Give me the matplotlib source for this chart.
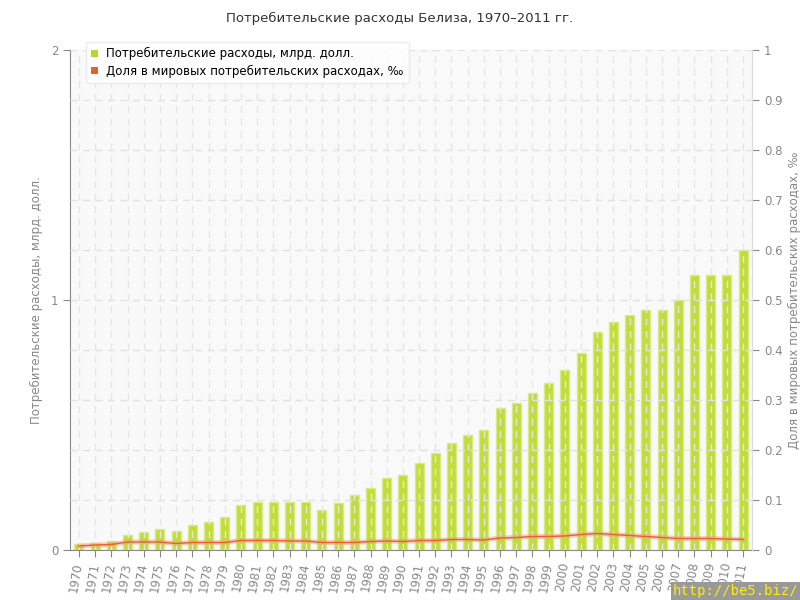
import matplotlib
matplotlib.use("Agg")
import matplotlib.pyplot as plt
import numpy as np
from matplotlib.patches import Patch

years = list(range(1970, 2012))
spending = [0.023, 0.029, 0.036, 0.06, 0.072, 0.083, 0.076, 0.099, 0.111, 0.131,
            0.18, 0.191, 0.191, 0.191, 0.191, 0.16, 0.19, 0.22, 0.25, 0.29,
            0.30, 0.35, 0.39, 0.43, 0.46, 0.48, 0.57, 0.59, 0.63, 0.67,
            0.72, 0.79, 0.871, 0.912, 0.94, 0.96, 0.96, 1.0, 1.1, 1.1,
            1.1, 1.2]
share = [0.008, 0.010, 0.011, 0.016, 0.016, 0.016, 0.013, 0.015, 0.015, 0.015,
         0.019, 0.019, 0.019, 0.018, 0.018, 0.015, 0.015, 0.015, 0.017, 0.018,
         0.017, 0.019, 0.019, 0.021, 0.021, 0.020, 0.024, 0.025, 0.027, 0.027,
         0.028, 0.031, 0.033, 0.031, 0.029, 0.027, 0.025, 0.023, 0.023, 0.023,
         0.022, 0.021]

title = "Потребительские расходы Белиза, 1970–2011 гг."
left_label = "Потребительские расходы, млрд. долл."
right_label = "Доля в мировых потребительских расходах, ‰"
legend_labels = ["Потребительские расходы, млрд. долл.",
                 "Доля в мировых потребительских расходах, ‰"]

plt.rcParams['font.family'] = ['DejaVu Sans']
fig = plt.figure(figsize=(8, 6), dpi=100)
ax = fig.add_axes([70/800, 50/600, (752-70)/800, 500/600])
ax.set_facecolor('#f9f9f9')
x = np.arange(len(years))

ax.bar(x, spending, width=0.55, color='#c2dd3a', edgecolor='#d6ea85',
       linewidth=1.0, zorder=2)
ax.set_xlim(-0.55, len(years) - 0.45)
ax.set_ylim(0, 2)
ax.set_yticks([0, 1, 2])
ax.set_yticks(np.arange(0, 2.01, 0.2), minor=True)
ax.tick_params(axis='y', which='minor', length=0)
ax.tick_params(axis='y', which='major', length=5, color='#888888', labelcolor='#888888', labelsize=8.5)
ax.set_xticks(x)
ax.set_xticklabels([str(y) for y in years], rotation=80, ha='right', va='center',
                   rotation_mode='anchor', color='#888888', fontsize=8.5)
ax.tick_params(axis='x', length=5, color='#888888', pad=4)
ax.grid(True, which='minor', axis='y', color='#e2e2e2', linestyle=(0, (5, 4)), linewidth=1, zorder=3)
ax.grid(True, which='major', axis='y', color='#e2e2e2', linestyle=(0, (5, 4)), linewidth=1, zorder=3)
ax.grid(True, which='major', axis='x', color='#e6e6e6', linestyle=(0, (5, 4)), linewidth=1, zorder=3)
ax.set_axisbelow(False)
ax.spines['top'].set_visible(False)
ax.spines['right'].set_color('#dddddd')
ax.spines['left'].set_color('#888888')
ax.spines['bottom'].set_color('#888888')
ax.set_ylabel(left_label, color='#888888', fontsize=8.5)
ax.yaxis.set_label_coords(-0.04, 0.5)

ax2 = ax.twinx()
ax2.set_ylim(0, 1)
ticks2 = np.arange(0, 1.01, 0.1)
ax2.set_yticks(ticks2)
ax2.set_yticklabels(['0'] + [f"{v:.1f}" for v in ticks2[1:-1]] + ['1'])
ax2.tick_params(axis='y', length=5, color='#888888', labelcolor='#888888', labelsize=8.5)
for s in ['top', 'left', 'bottom']:
    ax2.spines[s].set_visible(False)
ax2.spines['right'].set_color('#dddddd')
ax2.plot(x, share, color='#f0a080', linewidth=3.5, alpha=0.5, zorder=4)
ax2.plot(x, share, color='#e8602c', linewidth=1, zorder=5)
ax2.set_ylabel(right_label, color='#888888', fontsize=8.5, rotation=90)
ax2.yaxis.set_label_coords(1.052, 0.5)

handles = [Patch(facecolor='#b9d630', edgecolor='none'), Patch(facecolor='#e8602c', edgecolor='none')]
leg = fig.legend(handles, legend_labels, loc='upper left', bbox_to_anchor=(80/800, 1 - 36/600),
                 fontsize=8.5, frameon=True, fancybox=True, handlelength=0.55,
                 handleheight=0.55, handletextpad=0.7, borderpad=0.45, labelspacing=0.35)
leg.get_frame().set_edgecolor('#e8e8e8')
leg.get_frame().set_facecolor('white')
leg.set_zorder(10)

fig.text(0.5, 1 - 18/600, title, ha='center', va='center', fontsize=9.5, color='#333333')
fig.text(0.998, 0.003, "http://be5.biz/", ha='right', va='bottom', fontsize=10, color='#ffee00',
         family='DejaVu Sans Mono',
         bbox=dict(facecolor='#999999', edgecolor='none', pad=1.5))

fig.savefig('out.png', dpi=100)
